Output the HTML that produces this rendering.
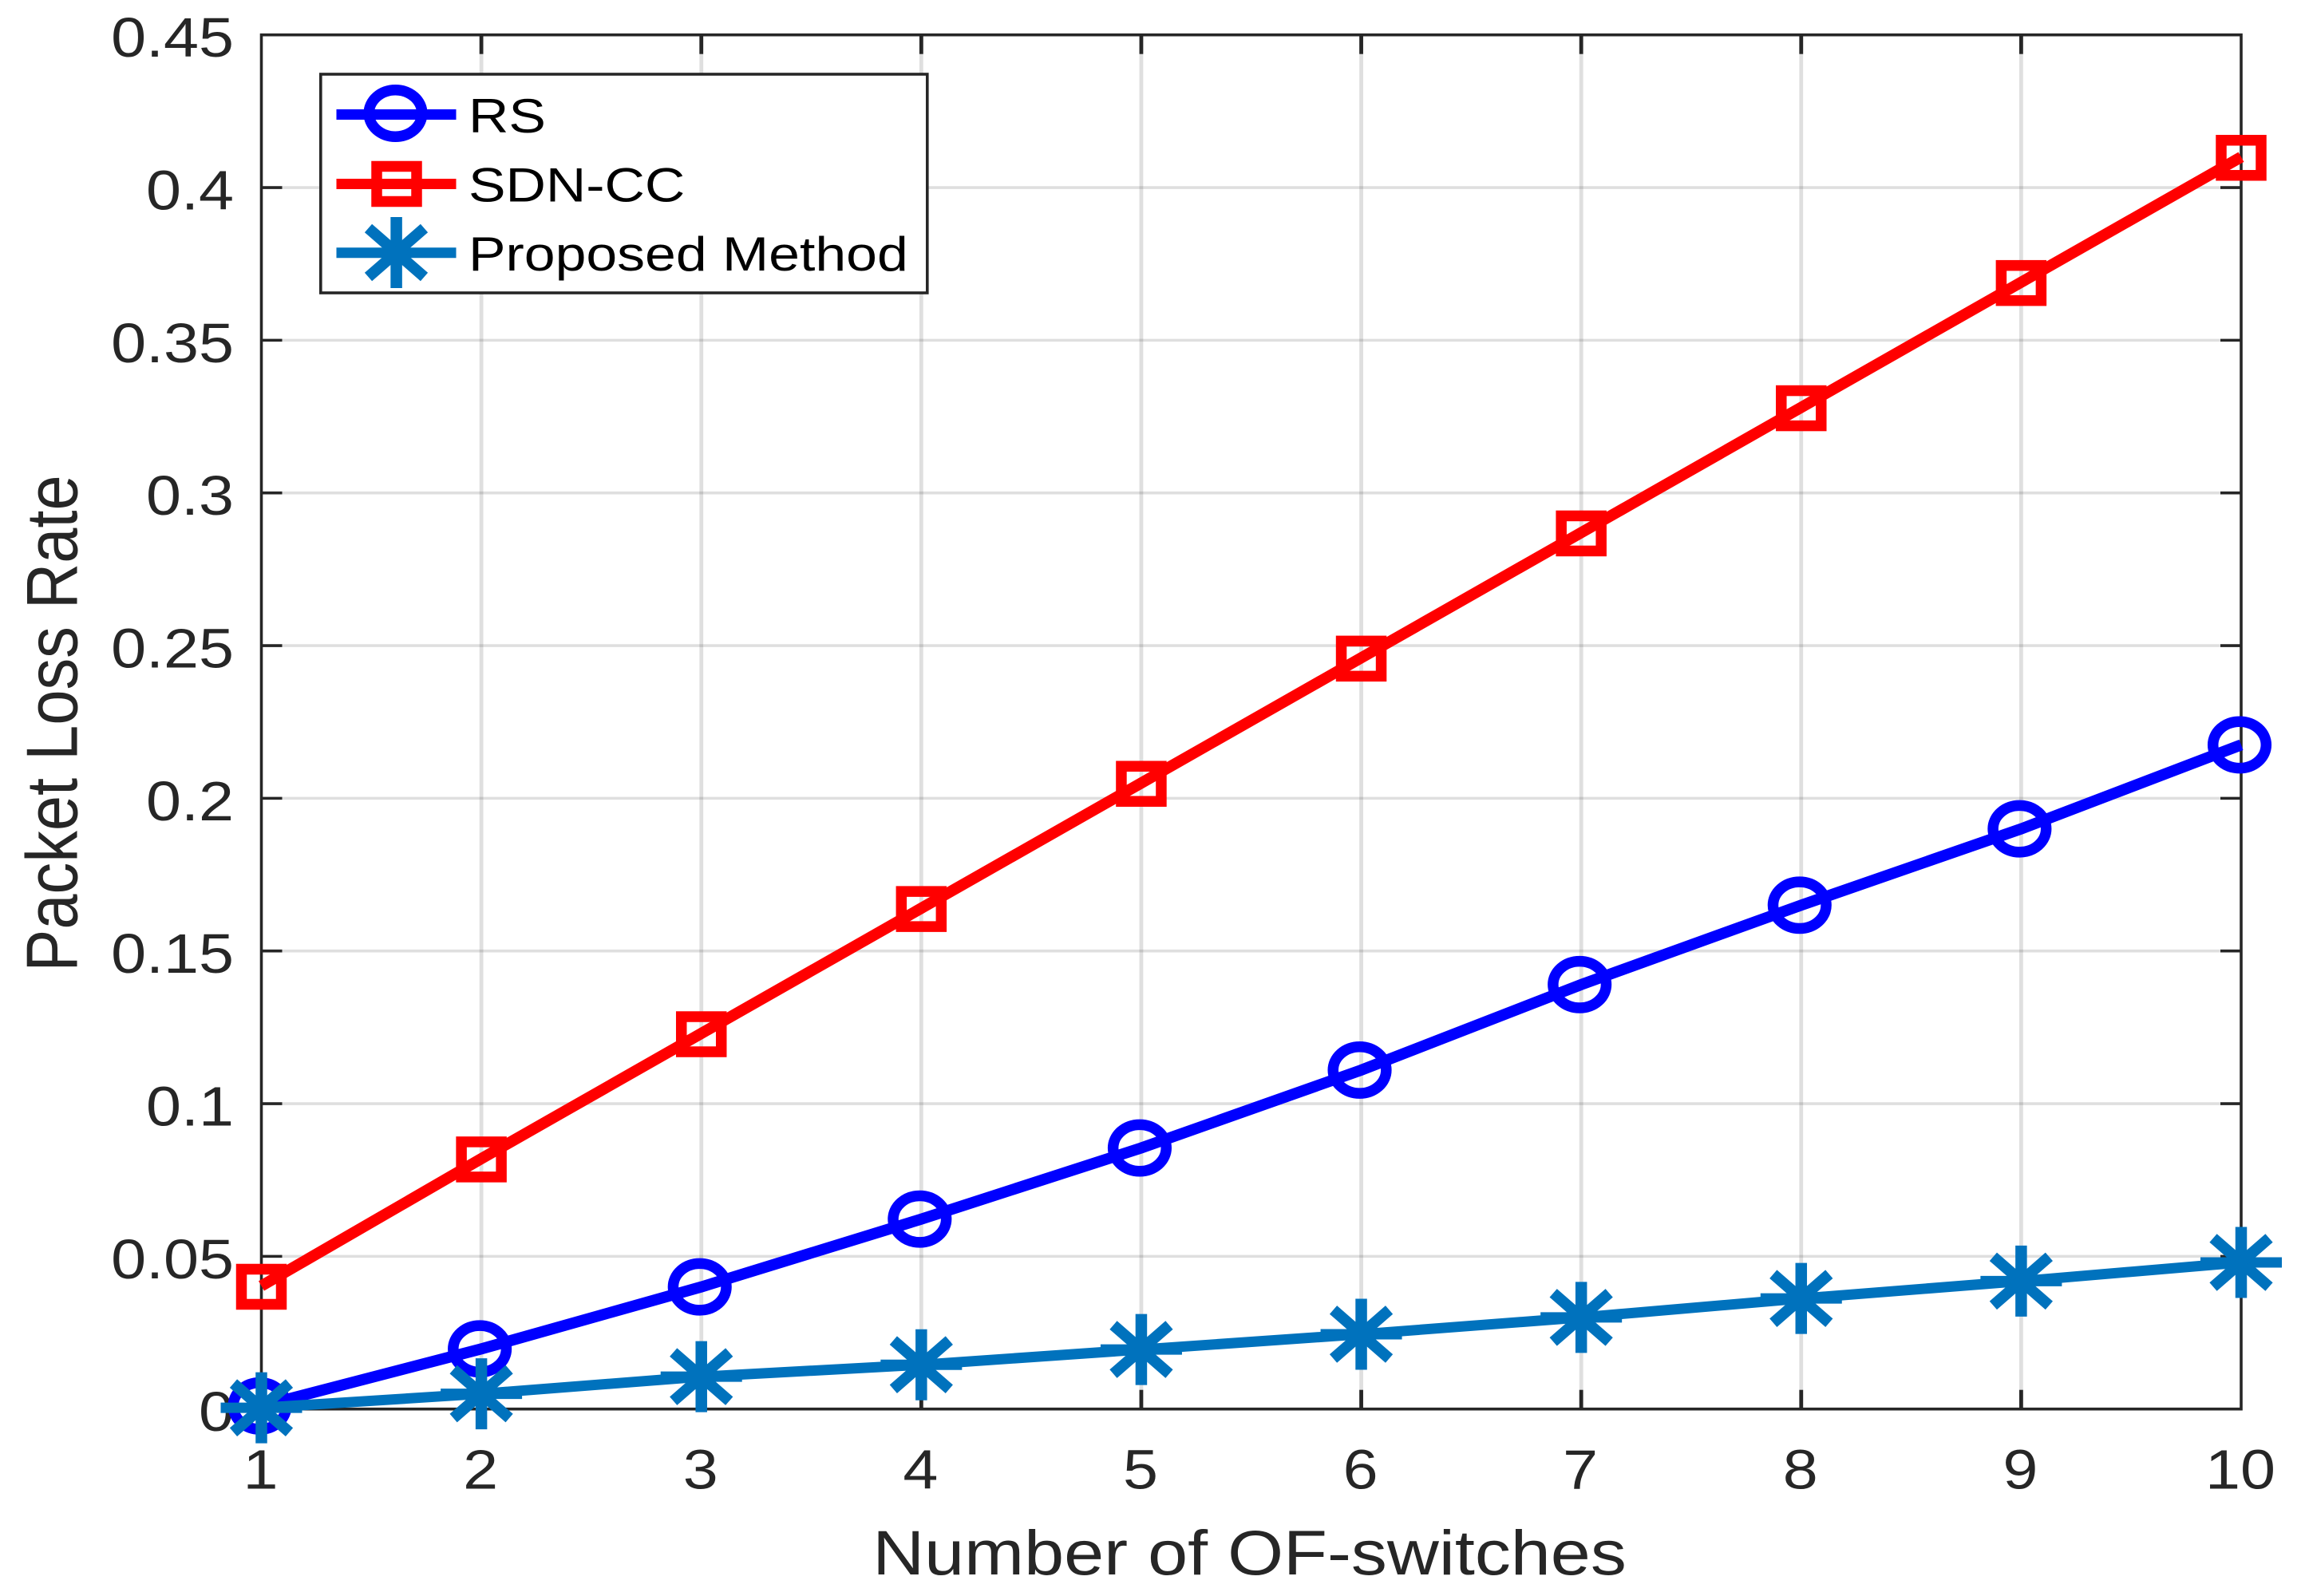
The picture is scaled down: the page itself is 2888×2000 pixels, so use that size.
<!DOCTYPE html>
<html lang="en">
<head>
<meta charset="utf-8">
<title>Packet Loss Rate vs Number of OF-switches</title>
<style>
  html, body { margin: 0; padding: 0; background: #ffffff; }
  svg { display: block; font-family: "Liberation Sans", Arial, sans-serif; }
</style>
</head>
<body>
<svg id="chart" xmlns="http://www.w3.org/2000/svg" width="2888" height="2000" viewBox="0 0 2888 2000">
  <rect x="0" y="0" width="2888" height="2000" fill="#ffffff"/>
  <g id="grid"></g>
  <rect x="327.5" y="43.7" width="2480.5" height="1722" fill="none" stroke="#262626" stroke-width="3.6"/>
  <g id="ticks"></g>
  <g id="tick-labels"></g>
  <text transform="translate(1565.5,1973) scale(1.146,1)" font-size="78.5" fill="#262626" text-anchor="middle">Number of OF-switches</text>
  <text transform="translate(96.5,906.5) scale(1.143,1) rotate(-90)" font-size="79.4" fill="#262626" text-anchor="middle">Packet Loss Rate</text>
  <g id="series"></g>
  <g>
    <rect x="401.8" y="93" width="760" height="274" fill="#ffffff" stroke="#262626" stroke-width="3.6"/>
    <g>
      <line x1="421.5" y1="143.5" x2="571.5" y2="143.5" stroke="#0000ff" stroke-width="13"/>
      <ellipse cx="495.5" cy="142" rx="33.3" ry="29.2" fill="none" stroke="#0000ff" stroke-width="13.5"/>
      <text transform="translate(587,166) scale(1.163,1)" font-size="60" fill="#000000">RS</text>
    </g>
    <g>
      <line x1="421.5" y1="230.5" x2="571.5" y2="230.5" stroke="#ff0000" stroke-width="13"/>
      <rect x="472" y="208.5" width="50" height="44" fill="none" stroke="#ff0000" stroke-width="13.5"/>
      <text transform="translate(587,252.5) scale(1.163,1)" font-size="60" fill="#000000">SDN-CC</text>
    </g>
    <g>
      <line x1="421.5" y1="316.7" x2="571.5" y2="316.7" stroke="#0072bd" stroke-width="13"/>
      <g stroke="#0072bd" fill="none">
        <line x1="496.6" y1="272" x2="496.6" y2="361" stroke-width="14.5"/>
        <line x1="461.5" y1="286" x2="531.5" y2="347" stroke-width="14"/>
        <line x1="461.5" y1="347" x2="531.5" y2="286" stroke-width="14"/>
      </g>
      <text transform="translate(587,339) scale(1.163,1)" font-size="60" fill="#000000">Proposed Method</text>
    </g>
  </g>
</svg>
<script>
// Chart data
const switchCounts = [1, 2, 3, 4, 5, 6, 7, 8, 9, 10];
const rsValues = [0.001, 0.0197, 0.04, 0.0622, 0.0855, 0.111, 0.139, 0.165, 0.19, 0.2175];
const sdnCcValues = [0.0403, 0.082, 0.123, 0.164, 0.205, 0.246, 0.287, 0.328, 0.369, 0.41];
const proposedValues = [0.0004, 0.005, 0.0106, 0.0145, 0.0195, 0.0245, 0.03, 0.0362, 0.0419, 0.048];
const xTickValues = [1, 2, 3, 4, 5, 6, 7, 8, 9, 10];
const xTickLabels = ['1', '2', '3', '4', '5', '6', '7', '8', '9', '10'];
const yTickValues = [0, 0.05, 0.1, 0.15, 0.2, 0.25, 0.3, 0.35, 0.4, 0.45];
const yTickLabels = ['0', '0.05', '0.1', '0.15', '0.2', '0.25', '0.3', '0.35', '0.4', '0.45'];
const xDomain = [1, 10];
const yDomain = [0, 0.45];

const NS = 'http://www.w3.org/2000/svg';
const plotLeft = 327.5, plotRight = 2808, plotTop = 43.7, plotBottom = 1765.7;

function xScale(v) {
  return plotLeft + (v - xDomain[0]) / (xDomain[1] - xDomain[0]) * (plotRight - plotLeft);
}
function yScale(v) {
  return plotBottom - (v - yDomain[0]) / (yDomain[1] - yDomain[0]) * (plotBottom - plotTop);
}
function make(tag, attrs, parent) {
  const el = document.createElementNS(NS, tag);
  for (const k in attrs) el.setAttribute(k, attrs[k]);
  parent.appendChild(el);
  return el;
}

const gridLayer = document.getElementById('grid');
const tickLayer = document.getElementById('ticks');
const labelLayer = document.getElementById('tick-labels');
const seriesLayer = document.getElementById('series');

// Vertical grid, x ticks, x labels
xTickValues.forEach(function (v, i) {
  const px = xScale(v);
  if (i > 0 && i < xTickValues.length - 1) {
    const g = make('line', { x1: px, y1: plotTop, x2: px, y2: plotBottom, stroke: '#262626', 'stroke-opacity': 0.15, 'stroke-width': 4.8 }, gridLayer);
    
    
    const t1 = make('line', { x1: px, y1: plotBottom, x2: px, y2: plotBottom - 24, stroke: '#262626', 'stroke-width': 4.8 }, tickLayer);
    
    
    const t2 = make('line', { x1: px, y1: plotTop, x2: px, y2: plotTop + 24, stroke: '#262626', 'stroke-width': 4.8 }, tickLayer);
    
    
  }
  const lab = make('text', { transform: 'translate(' + (px - 1) + ',1865.5) scale(1.13,1)', 'font-size': 70, fill: '#262626', 'text-anchor': 'middle' }, labelLayer);
  
  
  lab.textContent = xTickLabels[i];
});

// Horizontal grid, y ticks, y labels
yTickValues.forEach(function (v, i) {
  const py = yScale(v);
  if (i > 0 && i < yTickValues.length - 1) {
    const g = make('line', { x1: plotLeft, y1: py, x2: plotRight, y2: py, stroke: '#262626', 'stroke-opacity': 0.15, 'stroke-width': 3.6 }, gridLayer);
    
    
    const t1 = make('line', { x1: plotLeft, y1: py, x2: plotLeft + 26, y2: py, stroke: '#262626', 'stroke-width': 3.6 }, tickLayer);
    
    
    const t2 = make('line', { x1: plotRight, y1: py, x2: plotRight - 26, y2: py, stroke: '#262626', 'stroke-width': 3.6 }, tickLayer);
    
    
  }
  const lab = make('text', { transform: 'translate(293,' + (py + 27.5) + ') scale(1.13,1)', 'font-size': 70, fill: '#262626', 'text-anchor': 'end' }, labelLayer);
  
  
  lab.textContent = yTickLabels[i];
});

function linePoints(values) {
  return values.map(function (v, i) { return xScale(switchCounts[i]) + ',' + yScale(v); }).join(' ');
}

// RS series
const rsLine = make('polyline', { points: linePoints(rsValues), fill: 'none', stroke: '#0000ff', 'stroke-width': 14, 'stroke-linejoin': 'miter' }, seriesLayer);


rsValues.forEach(function (v, i) {
  const m = make('ellipse', { cx: xScale(switchCounts[i]) - 2, cy: yScale(v), rx: 33.3, ry: 29.2, fill: 'none', stroke: '#0000ff', 'stroke-width': 13.5 }, seriesLayer);
  
  
});

// SDN-CC series
const sdnLine = make('polyline', { points: linePoints(sdnCcValues), fill: 'none', stroke: '#ff0000', 'stroke-width': 14, 'stroke-linejoin': 'miter' }, seriesLayer);


sdnCcValues.forEach(function (v, i) {
  const m = make('rect', { x: xScale(switchCounts[i]) - 25, y: yScale(v) - 21, width: 50, height: 44, fill: 'none', stroke: '#ff0000', 'stroke-width': 13.5 }, seriesLayer);
  
  
});

// Proposed Method series
const proposedLine = make('polyline', { points: linePoints(proposedValues), fill: 'none', stroke: '#0072bd', 'stroke-width': 13, 'stroke-linejoin': 'miter' }, seriesLayer);


proposedValues.forEach(function (v, i) {
  const px = xScale(switchCounts[i]);
  const py = yScale(v);
  const star = make('g', { stroke: '#0072bd', fill: 'none' }, seriesLayer);
  
  
  make('line', { x1: px - 51, y1: py, x2: px + 51, y2: py, 'stroke-width': 13 }, star);
  make('line', { x1: px, y1: py - 44.5, x2: px, y2: py + 44.5, 'stroke-width': 14.5 }, star);
  make('line', { x1: px - 35, y1: py - 30.5, x2: px + 35, y2: py + 30.5, 'stroke-width': 14 }, star);
  make('line', { x1: px - 35, y1: py + 30.5, x2: px + 35, y2: py - 30.5, 'stroke-width': 14 }, star);
});
</script>
</body>
</html>
